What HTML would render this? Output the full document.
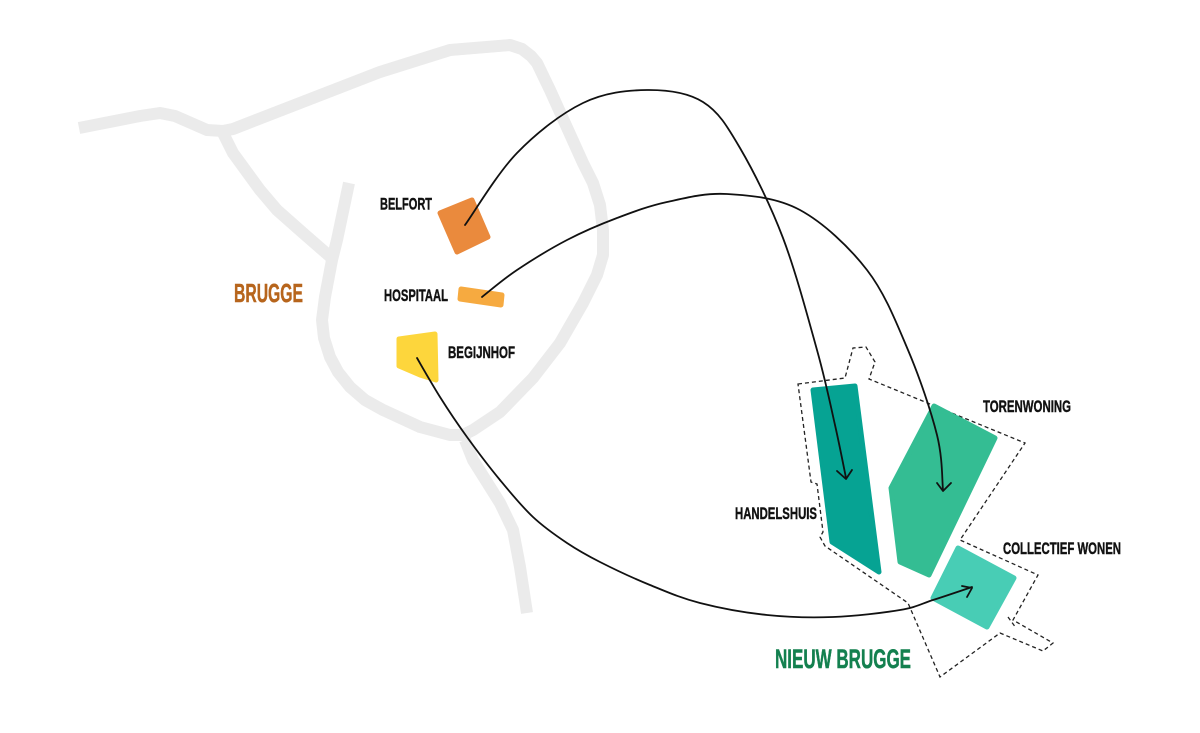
<!DOCTYPE html>
<html>
<head>
<meta charset="utf-8">
<style>
  html,body{margin:0;padding:0;background:#ffffff;}
  svg{display:block;}
  text{font-family:"Liberation Sans","DejaVu Sans",sans-serif;font-weight:bold;}
</style>
</head>
<body>
<svg width="1200" height="733" viewBox="0 0 1200 733" xmlns="http://www.w3.org/2000/svg">
  <rect width="1200" height="733" fill="#ffffff"/>

  <!-- Roads -->
  <g fill="none" stroke="#ebebeb" stroke-width="12" stroke-linejoin="round" stroke-linecap="butt">
    <polyline points="79,128 140,116 160,113 175,116 207,130 223,131 233,129 380,72 450,50 510,45 522,49 531,56 537,63 550,90 583,163 593,183 600,205 603,230 603,255 597,275 583,303 560,343 533,378 500,412 473,430 463,435 450,435 420,427 383,410 365,400 350,387 338,372 330,357 324,338 322,320 325,297 332,260 337,240 349,183"/>
    <polyline points="223,133 233,153 260,190 277,210 303,233 334,260"/>
    <polyline points="465,440 473,460 500,503 513,530 520,567 527,613"/>
  </g>

  <!-- Brugge buildings -->
  <polygon points="440,213 472,200 488,237 457,252" fill="#ea8a3d" stroke="#ea8a3d" stroke-width="5" stroke-linejoin="round"/>
  <polygon points="461,289 502,295 501,305 460,299" fill="#f6aa40" stroke="#f6aa40" stroke-width="5" stroke-linejoin="round"/>
  <polygon points="399,339 435,334 436,380 420,375 399,366" fill="#fdd63c" stroke="#fdd63c" stroke-width="5" stroke-linejoin="round"/>

  <!-- Dashed site outline -->
  <g fill="none" stroke="#222" stroke-width="1.3" stroke-dasharray="4 3">
    <polygon points="798,384 845,378 853,348 866,347 875,362 869,379 1025,443 960,540 1038,575 1013,620 1053,643 1043,651 1000,633 940,677 908,603 825,546 820,537 823,532 817,484 811,482"/>
    <line x1="1008" y1="617" x2="1016" y2="628"/>
  </g>

  <!-- Nieuw Brugge buildings -->
  <polygon points="813,390 855,386 879,572 832,542" fill="#06a393" stroke="#06a393" stroke-width="5" stroke-linejoin="round"/>
  <polygon points="934,406 995,438 929,575 900,562 891,488" fill="#34bd93" stroke="#34bd93" stroke-width="5" stroke-linejoin="round"/>
  <polygon points="958,548 1014,578 987,627 933,598" fill="#48cdb5" stroke="#48cdb5" stroke-width="5" stroke-linejoin="round"/>

  <!-- Connectors -->
  <g fill="none" stroke="#111" stroke-width="1.8" stroke-linecap="round" stroke-linejoin="round">
    <path d="M465,225 C473.7,213 497.3,173.3 517,153 C536.7,132.7 561.3,113.5 583,103 C604.7,92.5 627,90.2 647,90 C667,89.8 687.5,92.3 703,102 C718.5,111.7 726.7,125.3 740,148 C753.3,170.7 770.2,204.3 783,238 C795.8,271.7 808.3,318.8 817,350 C825.7,381.2 830.2,403.7 835,425 C839.8,446.3 844.2,469.2 846,478"/>
    <path d="M837,471 L846,479 L852,470"/>

    <path d="M482,297 C487.8,292.5 502.8,279.5 517,270 C531.2,260.5 550.3,248.7 567,240 C583.7,231.3 600.3,224.3 617,218 C633.7,211.7 648.7,206 667,202 C685.3,198 704.8,192.7 727,194 C749.2,195.3 776.7,197.3 800,210 C823.3,222.7 849,246.7 867,270 C885,293.3 896.3,322.5 908,350 C919.7,377.5 931.2,411.7 937,435 C942.8,458.3 942,480.8 943,490"/>
    <path d="M937,483 L943,491 L951,483"/>

    <path d="M417,358 C420.8,364.5 431.7,383.8 440,397 C448.3,410.2 457,423.2 467,437 C477,450.8 489,466.7 500,480 C511,493.3 521.8,506.5 533,517 C544.2,527.5 555.8,535.5 567,543 C578.2,550.5 586.2,555 600,562 C613.8,569 633.3,578.2 650,585 C666.7,591.8 680.5,598 700,603 C719.5,608 744.8,612.7 767,615 C789.2,617.3 810.8,617.8 833,617 C855.2,616.2 883.3,612.8 900,610 C916.7,607.2 921,603.8 933,600 C945,596.2 965.5,589.2 972,587"/>
    <path d="M962,586 L972,588 L967,597"/>
  </g>

  <!-- Labels -->
  <g fill="#111" stroke="#111" stroke-width="0.45">
    <text x="380" y="209.5" font-size="17" textLength="52" lengthAdjust="spacingAndGlyphs">BELFORT</text>
    <text x="384" y="301" font-size="17" textLength="64" lengthAdjust="spacingAndGlyphs">HOSPITAAL</text>
    <text x="448" y="358" font-size="17" textLength="67" lengthAdjust="spacingAndGlyphs">BEGIJNHOF</text>
    <text x="983" y="412" font-size="17" textLength="88" lengthAdjust="spacingAndGlyphs">TORENWONING</text>
    <text x="735" y="519" font-size="17" textLength="82" lengthAdjust="spacingAndGlyphs">HANDELSHUIS</text>
    <text x="1003" y="554" font-size="17" textLength="118" lengthAdjust="spacingAndGlyphs">COLLECTIEF WONEN</text>
  </g>
  <text x="234" y="302" font-size="26" fill="#b7651c" stroke="#b7651c" stroke-width="0.5" textLength="69" lengthAdjust="spacingAndGlyphs">BRUGGE</text>
  <text x="775" y="668" font-size="27" fill="#13804f" stroke="#13804f" stroke-width="0.5" textLength="136" lengthAdjust="spacingAndGlyphs">NIEUW BRUGGE</text>
</svg>
</body>
</html>
